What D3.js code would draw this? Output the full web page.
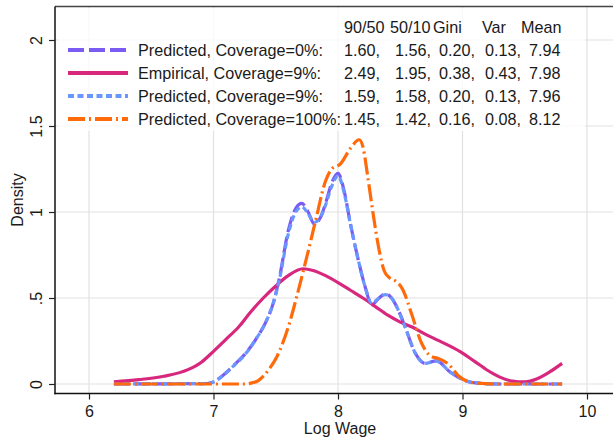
<!DOCTYPE html>
<html>
<head>
<meta charset="utf-8">
<script src="https://cdn.jsdelivr.net/npm/d3@7"></script>
<style>
  html, body { margin: 0; padding: 0; background: #fff; }
  svg text { font-family: "Liberation Sans", Arial, Helvetica, sans-serif; fill: #1a1a1a; }
</style>
</head>
<body>
<svg id="chart" width="613" height="441"></svg>
<script>
// ---- Data ----
const xP0  = [6.2, 6.95, 7.0, 7.05, 7.1, 7.18, 7.26, 7.34, 7.42, 7.48, 7.53, 7.6, 7.66, 7.71, 7.76, 7.81, 7.86, 7.9, 7.95, 8.0, 8.05, 8.1, 8.16, 8.22, 8.27, 8.33, 8.38, 8.43, 8.49, 8.54, 8.62, 8.7, 8.79, 8.9, 9.01, 9.12, 9.3, 9.8];
const yP0  = [0, 0.003, 0.012, 0.035, 0.065, 0.12, 0.18, 0.26, 0.36, 0.47, 0.62, 0.89, 1.02, 1.05, 1.0, 0.93, 0.97, 1.05, 1.17, 1.225, 1.12, 0.93, 0.73, 0.56, 0.46, 0.5, 0.525, 0.5, 0.42, 0.33, 0.18, 0.12, 0.135, 0.07, 0.023, 0.005, 0, 0];

const xEmp = [6.2, 6.4, 6.6, 6.8, 6.9, 7.0, 7.1, 7.2, 7.3, 7.4, 7.5, 7.6, 7.72, 7.8, 7.9, 8.0, 8.1, 8.2, 8.3, 8.4, 8.5, 8.6, 8.7, 8.8, 8.9, 9.0, 9.1, 9.2, 9.3, 9.4, 9.5, 9.6, 9.7, 9.8];
const yEmp = [0.012, 0.025, 0.045, 0.085, 0.125, 0.19, 0.26, 0.33, 0.42, 0.5, 0.57, 0.63, 0.67, 0.66, 0.63, 0.59, 0.545, 0.5, 0.45, 0.4, 0.36, 0.33, 0.29, 0.255, 0.22, 0.18, 0.13, 0.08, 0.04, 0.017, 0.012, 0.03, 0.07, 0.12];

const xP9  = [6.2, 6.95, 7.0, 7.05, 7.1, 7.18, 7.26, 7.34, 7.42, 7.48, 7.53, 7.6, 7.66, 7.71, 7.76, 7.81, 7.86, 7.9, 7.95, 8.0, 8.05, 8.1, 8.16, 8.22, 8.27, 8.33, 8.38, 8.43, 8.49, 8.54, 8.62, 8.7, 8.79, 8.9, 9.01, 9.12, 9.3, 9.8];
const yP9  = [0, 0.003, 0.012, 0.034, 0.064, 0.118, 0.178, 0.26, 0.36, 0.47, 0.61, 0.87, 1.0, 1.03, 0.99, 0.94, 0.97, 1.04, 1.15, 1.21, 1.11, 0.93, 0.73, 0.56, 0.47, 0.5, 0.52, 0.5, 0.42, 0.33, 0.18, 0.12, 0.133, 0.07, 0.023, 0.005, 0, 0];

const xP100 = [6.2, 7.25, 7.3, 7.36, 7.44, 7.51, 7.6, 7.68, 7.76, 7.82, 7.9, 7.95, 8.02, 8.1, 8.17, 8.2, 8.24, 8.28, 8.33, 8.37, 8.41, 8.46, 8.52, 8.59, 8.67, 8.75, 8.8, 8.88, 8.98, 9.1, 9.25, 9.8];
const yP100 = [0, 0, 0.005, 0.02, 0.08, 0.16, 0.33, 0.54, 0.77, 0.95, 1.18, 1.25, 1.28, 1.37, 1.42, 1.38, 1.2, 1.0, 0.78, 0.66, 0.62, 0.6, 0.55, 0.41, 0.24, 0.16, 0.15, 0.12, 0.04, 0.006, 0, 0];

const seriesNames = ["Predicted, Coverage=0%:", "Empirical, Coverage=9%:", "Predicted, Coverage=9%:", "Predicted, Coverage=100%:"];
const statsHeader = ["90/50", "50/10", "Gini", "Var", "Mean"];
const statsRows = [
  ["1.60,", "1.56,", "0.20,", "0.13,", "7.94"],
  ["2.49,", "1.95,", "0.38,", "0.43,", "7.98"],
  ["1.59,", "1.58,", "0.20,", "0.13,", "7.96"],
  ["1.45,", "1.42,", "0.16,", "0.08,", "8.12"]
];
const xTicks = [6, 7, 8, 9, 10];
const yTicks = [0, 0.5, 1, 1.5, 2];
const yTickLabels = ["0", ".5", "1", "1.5", "2"];
const xTitle = "Log Wage";
const yTitle = "Density";

// ---- Styles ----
const styles = [
  { color: "#7B5CF2", dash: "16,5", width: 3.2 },
  { color: "#D8287E", dash: null, width: 3.2 },
  { color: "#6A97FF", dash: "6,3.5", width: 3.2 },
  { color: "#FF6A0A", dash: "17,4,2,4", width: 3.2 }
];

// ---- Layout ----
const svg = d3.select("#chart");
const L = 55, T = 6.5, B = 393.5, R = 640;
const x = d3.scaleLinear().domain([6, 10]).range([89, 587]);
const y = d3.scaleLinear().domain([0, 2]).range([384, 40]);

// gridlines
const grid = svg.append("g");
grid.selectAll("line.gx").data(xTicks).join("line")
  .attr("x1", d => x(d)).attr("x2", d => x(d)).attr("y1", T).attr("y2", B)
  .attr("stroke", "#e2e2e2").attr("stroke-width", 1.2);
grid.selectAll("line.gy").data(yTicks).join("line")
  .attr("x1", L).attr("x2", R).attr("y1", d => y(d)).attr("y2", d => y(d))
  .attr("stroke", "#e2e2e2").attr("stroke-width", 1.2);

// curves
const datasets = [
  xP0.map((v, i) => [v, yP0[i]]),
  xEmp.map((v, i) => [v, yEmp[i]]),
  xP9.map((v, i) => [v, yP9[i]]),
  xP100.map((v, i) => [v, yP100[i]])
];
const line = d3.line().x(d => x(d[0])).y(d => y(d[1])).curve(d3.curveMonotoneX);
datasets.forEach((ds, i) => {
  svg.append("path").datum(ds)
    .attr("d", line)
    .attr("fill", "none")
    .attr("stroke", styles[i].color)
    .attr("stroke-width", styles[i].width)
    .attr("stroke-dasharray", styles[i].dash)
    .attr("stroke-linejoin", "round");
});

// legend background (semi-opaque)
svg.append("rect").attr("x", 58).attr("y", 8).attr("width", 527).attr("height", 123)
  .attr("fill", "#fff").attr("opacity", 0.78);

// frame / axes
svg.append("line").attr("x1", L).attr("x2", R).attr("y1", T).attr("y2", T).attr("stroke", "#444").attr("stroke-width", 1.3);
svg.append("line").attr("x1", L).attr("x2", L).attr("y1", T).attr("y2", B + 0.7).attr("stroke", "#111").attr("stroke-width", 1.5);
svg.append("line").attr("x1", L - 0.7).attr("x2", R).attr("y1", B).attr("y2", B).attr("stroke", "#111").attr("stroke-width", 1.5);

// x ticks
const xAxisG = svg.append("g").attr("transform", `translate(0,${B})`)
  .call(d3.axisBottom(x).tickValues(xTicks).tickSize(6).tickPadding(6).tickFormat(d3.format("d")));
xAxisG.select(".domain").remove();
xAxisG.selectAll(".tick line").attr("stroke", "#222").attr("stroke-width", 1.2);
xAxisG.selectAll(".tick text").attr("font-size", 16).attr("fill", "#1a1a1a")
  .style("font-family", '"Liberation Sans", Arial, sans-serif');

// y ticks
const yAxisG = svg.append("g").attr("transform", `translate(${L},0)`)
  .call(d3.axisLeft(y).tickValues(yTicks).tickSize(6).tickFormat((d, i) => yTickLabels[i]));
yAxisG.select(".domain").remove();
yAxisG.selectAll(".tick line").attr("stroke", "#222").attr("stroke-width", 1.2);
yAxisG.selectAll(".tick text")
  .attr("font-size", 16).attr("fill", "#1a1a1a")
  .attr("x", 0).attr("dy", null)
  .attr("text-anchor", "middle")
  .attr("transform", "translate(-13,0) rotate(-90)")
  .style("font-family", '"Liberation Sans", Arial, sans-serif');

// axis titles
svg.append("text").attr("x", 340).attr("y", 434).attr("text-anchor", "middle")
  .attr("font-size", 16).text(xTitle);
svg.append("text").attr("transform", "translate(23,200) rotate(-90)").attr("text-anchor", "middle")
  .attr("font-size", 16).text(yTitle);

// legend
const rowY = [50, 73, 96, 119];
const colX = [344, 395, 439, 485, 529];
const headX = [344, 390, 433, 482, 521];
const lg = svg.append("g");
lg.selectAll("text.h").data(statsHeader).join("text")
  .attr("x", (d, i) => headX[i]).attr("y", 27).attr("dy", "0.35em")
  .attr("font-size", 16.2).text(d => d);
seriesNames.forEach((name, i) => {
  lg.append("line").attr("x1", 68).attr("x2", 128).attr("y1", rowY[i]).attr("y2", rowY[i])
    .attr("stroke", styles[i].color).attr("stroke-width", styles[i].width + 0.6)
    .attr("stroke-dasharray", styles[i].dash);
  lg.append("text").attr("x", 138).attr("y", rowY[i]).attr("dy", "0.35em")
    .attr("font-size", 16.2).text(name);
  statsRows[i].forEach((s, j) => {
    lg.append("text").attr("x", colX[j]).attr("y", rowY[i]).attr("dy", "0.35em")
      .attr("font-size", 16.2).text(s);
  });
});
</script>
</body>
</html>
